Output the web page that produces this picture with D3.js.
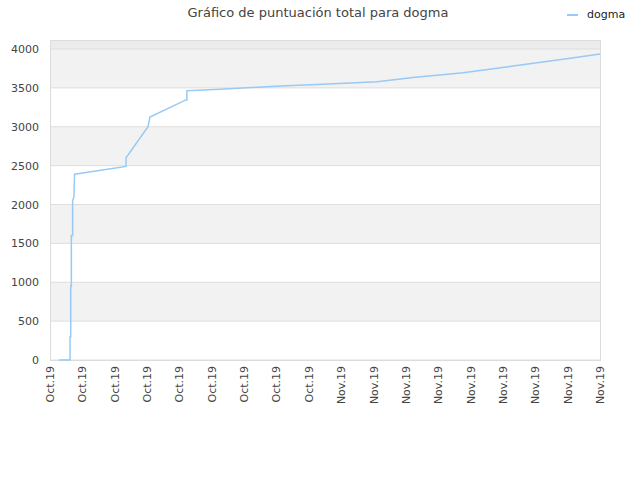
<!DOCTYPE html>
<html>
<head>
<meta charset="utf-8">
<script src="https://cdn.jsdelivr.net/npm/d3@7"></script>
<style>
  body { margin: 0; background: #fff; }
  text { font-family: "DejaVu Sans", sans-serif; }
</style>
</head>
<body>
<div id="chart"></div>
<script>
// tick labels along the x axis (one every tick index)
const tickLabels = ["Oct.19","Oct.19","Oct.19","Oct.19","Oct.19","Oct.19","Oct.19","Oct.19","Oct.19",
                    "Nov.19","Nov.19","Nov.19","Nov.19","Nov.19","Nov.19","Nov.19","Nov.19","Nov.19"];

// series: position in tick units, total score
const xs = [0.28, 0.62, 0.62, 0.64, 0.64, 0.66, 0.66, 0.70, 0.70, 0.74, 0.76, 2.35, 2.35, 3.03, 3.09,
            4.20, 4.23, 4.23, 5.25, 7.11, 8.44, 10.11, 11.22, 12.77, 14.31, 15.86, 17];
const scores = [0, 0, 300, 300, 950, 950, 1600, 1600, 2050, 2100, 2390, 2490, 2600, 3000, 3125,
                3345, 3345, 3463, 3482, 3524, 3546, 3580, 3632, 3696, 3781, 3867, 3935];

const yTicks = [0, 500, 1000, 1500, 2000, 2500, 3000, 3500, 4000];

const width = 640, height = 480;
const margin = {left: 50, right: 40, top: 40, bottom: 120};

const svg = d3.select("#chart").append("svg")
    .attr("width", width)
    .attr("height", height);

const x = d3.scaleLinear().domain([0, tickLabels.length - 1]).range([margin.left, width - margin.right]);
const y = d3.scaleLinear().domain([0, 4000]).range([360, 49]);
const yTop = y.invert(margin.top);

// background bands
svg.append("rect")
    .attr("x", x(0)).attr("y", y(yTop))
    .attr("width", x(17) - x(0)).attr("height", y(4000) - y(yTop))
    .attr("fill", "#ececec");
yTicks.slice(0, -1).forEach((v, i) => {
    svg.append("rect")
        .attr("x", x(0)).attr("y", y(v + 500))
        .attr("width", x(17) - x(0)).attr("height", y(v) - y(v + 500))
        .attr("fill", i % 2 ? "#f2f2f2" : "#fff");
});

// grid lines
svg.selectAll(".grid")
    .data(yTicks)
    .enter()
    .append("line")
    .attr("x1", x(0)).attr("x2", x(17))
    .attr("y1", d => y(d)).attr("y2", d => y(d))
    .attr("stroke", "#dedede");

// frame
svg.append("rect")
    .attr("x", x(0) + 0.5).attr("y", y(yTop) + 0.5)
    .attr("width", x(17) - x(0)).attr("height", y(0) - y(yTop))
    .attr("fill", "none")
    .attr("stroke", "#dcdcdc");

// y axis labels
svg.selectAll(".ylab")
    .data(yTicks)
    .enter()
    .append("text")
    .attr("x", 39)
    .attr("y", d => y(d) + 4)
    .attr("text-anchor", "end")
    .attr("font-size", 11)
    .attr("fill", "#444")
    .text(d => d);

// x axis labels
svg.selectAll(".xlab")
    .data(tickLabels)
    .enter()
    .append("text")
    .attr("transform", (d, i) => `translate(${x(i) + 4},366) rotate(-90)`)
    .attr("text-anchor", "end")
    .attr("font-size", 11)
    .attr("fill", "#444")
    .text(d => d);

// line
const line = d3.line()
    .x((d, i) => x(xs[i]))
    .y(d => y(d));

svg.append("path")
    .datum(scores)
    .attr("d", line)
    .attr("fill", "none")
    .attr("stroke", "#99c9f5")
    .attr("stroke-width", 1.5);

// title
svg.append("text")
    .attr("x", 318).attr("y", 17)
    .attr("text-anchor", "middle")
    .attr("font-size", 13)
    .attr("fill", "#444")
    .text("Gráfico de puntuación total para dogma");

// legend
svg.append("line")
    .attr("x1", 567).attr("x2", 578)
    .attr("y1", 15).attr("y2", 15)
    .attr("stroke", "#99c9f5")
    .attr("stroke-width", 2);
svg.append("text")
    .attr("x", 587).attr("y", 18)
    .attr("font-size", 11)
    .attr("fill", "#222")
    .text("dogma");
</script>
</body>
</html>
